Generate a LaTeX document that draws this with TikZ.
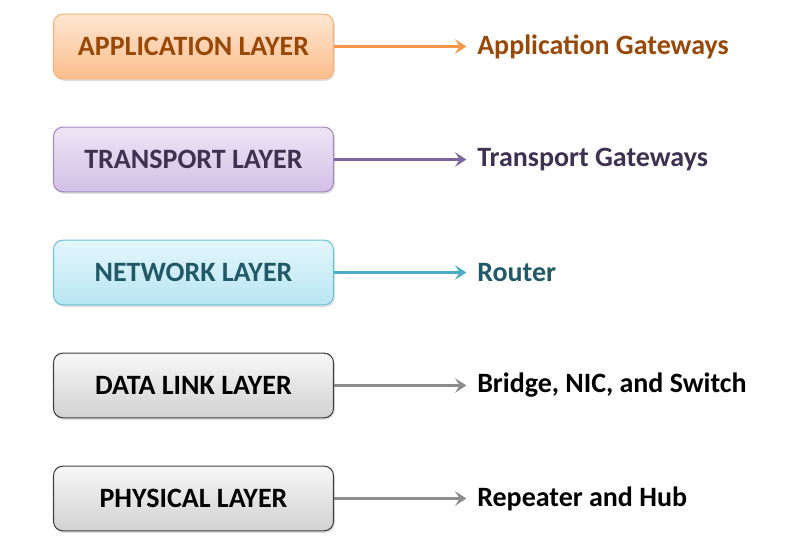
\documentclass[tikz,border=0pt]{standalone}
\usepackage{fontspec}
\setmainfont{Carlito}
\usepackage{xcolor}
\usetikzlibrary{arrows.meta,positioning,shadows}

\definecolor{appdraw}{HTML}{F9B37A}
\definecolor{apptop}{HTML}{FEE6D2}
\definecolor{appbot}{HTML}{FBBE8C}
\definecolor{apptext}{HTML}{984807}
\definecolor{apparrow}{HTML}{F79646}
\definecolor{trdraw}{HTML}{A58BC4}
\definecolor{trtop}{HTML}{EDE5F5}
\definecolor{trbot}{HTML}{D2C0E6}
\definecolor{trtext}{HTML}{3F3151}
\definecolor{trarrow}{HTML}{8064A2}
\definecolor{netdraw}{HTML}{6CC3DA}
\definecolor{nettop}{HTML}{E4F6FB}
\definecolor{netbot}{HTML}{B8E6F3}
\definecolor{nettext}{HTML}{215968}
\definecolor{netarrow}{HTML}{4BACC6}
\definecolor{grdraw}{HTML}{404040}
\definecolor{grtop}{HTML}{F7F7F7}
\definecolor{grbot}{HTML}{D2D2D2}
\definecolor{grarrow}{HTML}{8C8C8C}

\begin{document}
\begin{tikzpicture}[
  x=0.75pt,
  y=-0.75pt,
  layer/.style={rounded corners=7pt, minimum width=210pt, minimum height=48.5pt,
    line width=0.8pt, inner sep=0pt, font=\bfseries\fontsize{21}{25}\selectfont,
    drop shadow={shadow xshift=1pt, shadow yshift=-1.5pt, opacity=0.25}},
  app/.style={layer, draw=appdraw, top color=apptop, bottom color=appbot, text=apptext},
  tr/.style={layer, draw=trdraw, top color=trtop, bottom color=trbot, text=trtext},
  net/.style={layer, draw=netdraw, top color=nettop, bottom color=netbot, text=nettext},
  gr/.style={layer, draw=grdraw, top color=grtop, bottom color=grbot, text=black},
  device/.style={anchor=west, inner sep=0pt, font=\bfseries\fontsize{21}{25}\selectfont},
  link/.style={line width=2.3pt, shorten >=8pt, -{Stealth[length=8.5pt, width=11pt, inset=3.5pt]}}
]
\useasboundingbox (0,0) rectangle (808,539);

\node[app] (application) at (193.5,46.5) {APPLICATION LAYER};
\node[tr] (transport) at (193.5,159.5) {TRANSPORT LAYER};
\node[net] (network) at (193.5,272.5) {NETWORK LAYER};
\node[gr] (datalink) at (193.5,385.5) {DATA LINK LAYER};
\node[gr] (physical) at (193.5,498.5) {PHYSICAL LAYER};

\node[device, text=apptext] (gateways) at (477,46.5) {Application Gateways};
\node[device, text=trtext] (trgateways) at (477,159.5) {Transport Gateways};
\node[device, text=nettext] (router) at (477,272.5) {Router};
\node[device, text=black] (bridge) at (477,385.5) {Bridge, NIC, and Switch};
\node[device, text=black] (repeater) at (477,498.5) {Repeater and Hub};

\draw[link, apparrow] (application) -- (gateways);
\draw[link, trarrow] (transport) -- (trgateways);
\draw[link, netarrow] (network) -- (router);
\draw[link, grarrow] (datalink) -- (bridge);
\draw[link, grarrow] (physical) -- (repeater);
\end{tikzpicture}
\end{document}
